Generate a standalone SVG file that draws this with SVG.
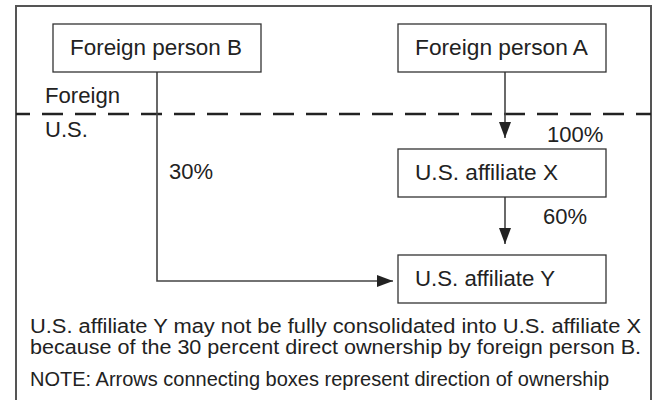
<svg xmlns="http://www.w3.org/2000/svg" width="657" height="400" viewBox="0 0 657 400">
<style>
text{font-family:"Liberation Sans",Arial,sans-serif;font-size:22px;fill:#222}
.note{font-size:20px}
.box{fill:#fff;stroke:#333;stroke-width:1.3}
.ln{fill:none;stroke:#444;stroke-width:1.6}
.frame{fill:none;stroke:#555;stroke-width:2}
</style>
<defs>
<marker id="ah" markerUnits="userSpaceOnUse" markerWidth="16" markerHeight="12" refX="16" refY="6" orient="auto">
<path d="M0,0 L16,6 L0,12 Z" fill="#222"/>
</marker>
</defs>
<rect width="657" height="400" fill="#fff"/>
<g id="frame">
<path class="frame" d="M16,400 V6 H651 V400"/>
<line x1="16" y1="114" x2="651" y2="114" stroke="#222" stroke-width="2.5" stroke-dasharray="21,12" stroke-dashoffset="7"/>
<text x="45" y="103" textLength="75" lengthAdjust="spacingAndGlyphs">Foreign</text>
<text x="45" y="137">U.S.</text>
</g>
<g id="connectors">
<path class="ln" d="M157,72 V281 H393" marker-end="url(#ah)"/>
<line class="ln" x1="505" y1="72" x2="505" y2="138" marker-end="url(#ah)"/>
<line class="ln" x1="505" y1="197" x2="505" y2="244" marker-end="url(#ah)"/>
<text x="547" y="142">100%</text>
<text x="169" y="179">30%</text>
<text x="543" y="224">60%</text>
</g>
<g id="nodeB">
<rect class="box" x="53" y="24" width="208" height="48"/>
<text x="70" y="55" textLength="172" lengthAdjust="spacingAndGlyphs">Foreign person B</text>
</g>
<g id="nodeA">
<rect class="box" x="398" y="24" width="208" height="48"/>
<text x="415" y="55" textLength="173" lengthAdjust="spacingAndGlyphs">Foreign person A</text>
</g>
<g id="nodeX">
<rect class="box" x="398" y="149" width="208" height="48"/>
<text x="415" y="180" textLength="143" lengthAdjust="spacingAndGlyphs">U.S. affiliate X</text>
</g>
<g id="nodeY">
<rect class="box" x="398" y="255" width="208" height="48"/>
<text x="415" y="286" textLength="140" lengthAdjust="spacingAndGlyphs">U.S. affiliate Y</text>
</g>
<g id="notes">
<text class="note" x="30" y="333" textLength="611" lengthAdjust="spacingAndGlyphs">U.S. affiliate Y may not be fully consolidated into U.S. affiliate X</text>
<text class="note" x="30" y="354" textLength="611" lengthAdjust="spacingAndGlyphs">because of the 30 percent direct ownership by foreign person B.</text>
<text class="note" x="30" y="386" textLength="579" lengthAdjust="spacingAndGlyphs">NOTE: Arrows connecting boxes represent direction of ownership</text>
</g>
</svg>
